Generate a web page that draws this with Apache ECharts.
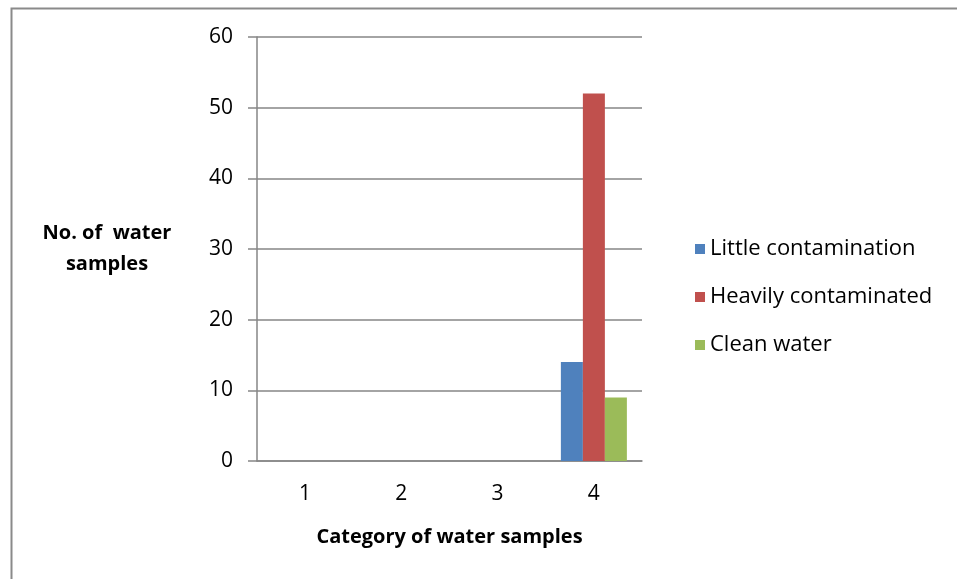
<!DOCTYPE html>
<html>
<head>
<meta charset="utf-8">
<script src="https://cdn.jsdelivr.net/npm/echarts@6/dist/echarts.min.js"></script>
<style>
html,body{margin:0;padding:0;background:#fff;}
#chart{width:957px;height:579px;}
</style>
</head>
<body>
<div id="chart"></div>
<script>
const categories = ['1', '2', '3', '4'];
const littleContamination = [0, 0, 0, 14];
const heavilyContaminated = [0, 0, 0, 52];
const cleanWater = [0, 0, 0, 9];
const seriesNames = ['Little contamination', 'Heavily contaminated', 'Clean water'];

const chart = echarts.init(document.getElementById('chart'));
const FONT = 'Open Sans';
chart.setOption({
  animation: false,
  backgroundColor: '#fff',
  color: ['#4F81BD', '#C0504D', '#9BBB59'],
  graphic: [{
    type: 'rect', left: 9, top: 6, silent: true,
    shape: { x: 0, y: 0, width: 1000, height: 700 },
    style: { fill: 'none', stroke: '#8a8a8a', lineWidth: 2 }
  }],
  grid: { left: 257, right: 315, top: 37, bottom: 118 },
  legend: {
    orient: 'vertical', left: 690, top: 233,
    itemWidth: 10, itemHeight: 10, itemGap: 26, icon: 'rect',
    textStyle: { fontFamily: FONT, fontSize: 22, color: '#000', padding: [0, 0, 0, 0] },
    data: seriesNames
  },
  xAxis: {
    type: 'category', data: categories,
    name: 'Category of water samples', nameLocation: 'middle', nameGap: 66,
    nameTextStyle: { fontFamily: FONT, fontSize: 20, fontWeight: 'bold', color: '#000' },
    axisLine: { lineStyle: { color: '#868686', width: 1.5 } },
    axisTick: { length: 6, lineStyle: { color: '#868686', width: 1.5 } },
    axisLabel: { fontFamily: FONT, fontSize: 21, color: '#000', margin: 23 }
  },
  yAxis: {
    type: 'value', min: 0, max: 60, interval: 10,
    name: 'No. of  water\nsamples', nameLocation: 'middle', nameGap: 150, nameRotate: 0,
    nameTextStyle: { fontFamily: FONT, fontSize: 20, fontWeight: 'bold', color: '#000', lineHeight: 31, align: 'center', padding: [10, 0, 0, 0] },
    axisLine: { show: true, lineStyle: { color: '#868686', width: 1.5 } },
    axisTick: { show: true, length: 9, lineStyle: { color: '#868686', width: 1.5 } },
    axisLabel: { fontFamily: FONT, fontSize: 21, color: '#000', margin: 24 },
    splitLine: { lineStyle: { color: '#868686', width: 1.5 } }
  },
  series: [
    { name: seriesNames[0], type: 'bar', data: littleContamination, barWidth: 22, barGap: '0%' },
    { name: seriesNames[1], type: 'bar', data: heavilyContaminated, barWidth: 22, barGap: '0%' },
    { name: seriesNames[2], type: 'bar', data: cleanWater, barWidth: 22, barGap: '0%' }
  ]
});
</script>
</body>
</html>
